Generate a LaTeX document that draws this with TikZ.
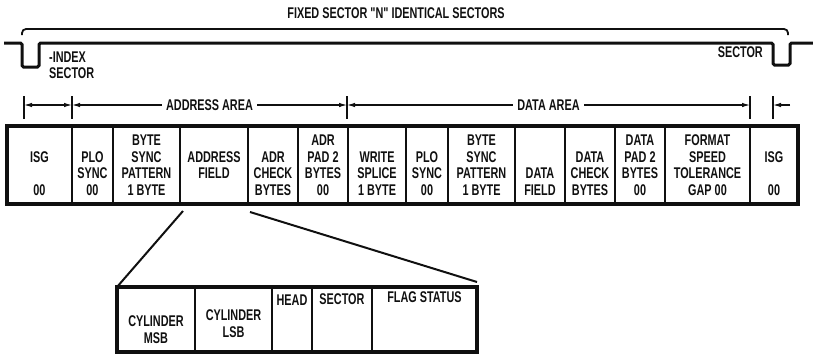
\documentclass[tikz,border=0pt]{standalone}
\usepackage{fontspec}
\newfontfamily\condfont[FakeStretch=0.7]{Liberation Sans}
\usetikzlibrary{arrows.meta}
\definecolor{ink}{RGB}{16,16,16}
\tikzset{
  fieldtext/.style={font=\condfont\bfseries\fontsize{15.5}{16.5}\selectfont,
    align=center,inner sep=0pt,text=ink},
  celltext/.style={fieldtext,anchor=south},
  subtext/.style={font=\condfont\bfseries\fontsize{15.5}{17}\selectfont},
  areatext/.style={fieldtext,fill=white,inner xsep=4pt,inner ysep=1pt},
  wave/.style={draw=ink,line width=3pt,rounded corners=1.5pt},
  brace/.style={draw=ink,line width=1.8pt,rounded corners=4pt},
  cellrule/.style={draw=ink,line width=1.8pt},
  frame/.style={draw=ink,line width=3.2pt},
  fanline/.style={draw=ink,line width=2pt},
  dimline/.style={draw=ink,line width=1.1pt},
  dimarrow/.style={dimline,{Latex[length=8pt,width=4.5pt]}-{Latex[length=8pt,width=4.5pt]}}
}

\begin{document}
\begin{tikzpicture}[x=1pt,y=-1pt]
  \useasboundingbox (0,0) rectangle (813,354);
  % sector brace and index pulses
  \node[fieldtext] (title) at (396,13) {FIXED SECTOR "N" IDENTICAL SECTORS};
  \draw[brace] (22,35) -- (22,29) -- (788,29) -- (788,35);
  \draw[wave] (4,43) -- (22,43) -- (22,67) -- (39,67) -- (39,43)
    -- (773,43) -- (773,65) -- (790,65) -- (790,43) -- (813,43);
  \node[fieldtext,align=left,anchor=north west,
    font=\condfont\bfseries\fontsize{15.5}{15.5}\selectfont]
    (index) at (49,52) {-INDEX\\SECTOR};
  \node[fieldtext,anchor=north east] (sectormark) at (763,46) {SECTOR};

  % area dimensions
  \foreach \t/\x in {isgl/24,addrl/72,datal/347,datar/750,isgr/773} {
    \draw[dimline] (\x,96) -- (\x,119);
    \coordinate (\t) at (\x,105);
  }
  \draw[dimarrow] (isgl) -- (addrl);
  \draw[dimarrow] (addrl) -- node[areatext] (addrarea) {ADDRESS AREA} (datal);
  \draw[dimarrow] (datal) -- node[areatext] (dataarea) {DATA AREA} (datar);
  \coordinate (isgtail) at (790,105);
  \draw[dimline,-{Latex[length=8pt,width=4.5pt]}] (isgtail) -- (isgr);

  % sector format
  \foreach \n/\xl/\xr/\yb/\txt in {
      isga/7/72/195.5/{ISG\\[16.5pt]00},
      ploa/72/113/195.5/{PLO\\SYNC\\00},
      synca/113/180/195.5/{BYTE\\SYNC\\PATTERN\\1 BYTE},
      addr/180/248/179/{ADDRESS\\FIELD},
      adrchk/248/298/195.5/{ADR\\CHECK\\BYTES},
      adrpad/298/348/195.5/{ADR\\PAD 2\\BYTES\\00},
      splice/348/406/195.5/{WRITE\\SPLICE\\1 BYTE},
      plob/406/448/195.5/{PLO\\SYNC\\00},
      syncb/448/515/195.5/{BYTE\\SYNC\\PATTERN\\1 BYTE},
      datfld/515/565/195.5/{DATA\\FIELD},
      datchk/565/615/195.5/{DATA\\CHECK\\BYTES},
      datpad/615/665/195.5/{DATA\\PAD 2\\BYTES\\00},
      format/665/750/195.5/{FORMAT\\SPEED\\TOLERANCE\\GAP 00},
      isgb/750/798/195.5/{ISG\\[16.5pt]00}} {
    \draw[cellrule] (\xl,126) rectangle (\xr,204);
    \node[celltext] (\n) at ({(\xl+\xr)/2},\yb) {\txt};
  }
  \draw[frame] (7,126) rectangle (798,204);

  % address field breakdown
  \foreach \n/\xl/\xr/\yb/\txt in {
      cylmsb/117/195/344/{CYLINDER\\MSB},
      cyllsb/195/272/338/{CYLINDER\\LSB},
      head/272/312/306/{HEAD},
      sector/312/372/305/{SECTOR},
      flag/372/477/303/{FLAG STATUS}} {
    \draw[cellrule] (\xl,287) rectangle (\xr,352);
    \node[celltext,subtext] (\n) at ({(\xl+\xr)/2},\yb) {\txt};
  }
  \draw[frame] (117,287) rectangle (477,352);
  \coordinate (addrbl) at (183,211);
  \coordinate (addrbr) at (250,212);
  \coordinate (subtl) at (117,287);
  \coordinate (subtr) at (477,282);
  \draw[fanline] (addrbl) -- (subtl);
  \draw[fanline] (addrbr) -- (subtr);
\end{tikzpicture}
\end{document}
